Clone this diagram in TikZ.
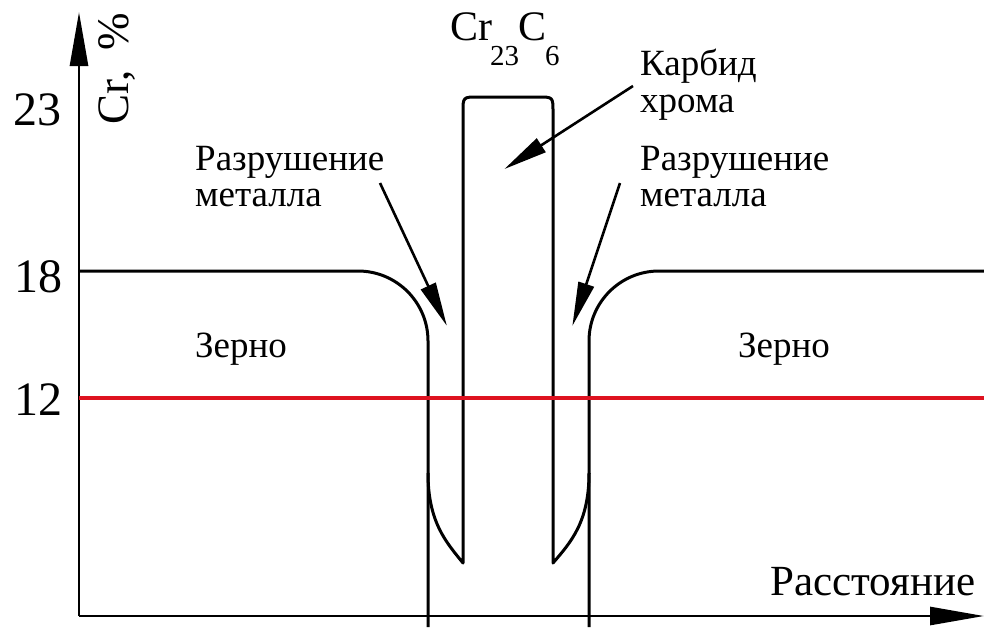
\documentclass[tikz,border=0pt]{standalone}
\usepackage{fontspec}
\setmainfont{Liberation Serif}
\usetikzlibrary{arrows.meta}
\definecolor{redline}{RGB}{222,18,32}
\tikzset{
  profile/.style={line width=3pt, black, line cap=butt, line join=round},
  axisline/.style={line width=2.8pt, black, -{Triangle[length=54pt,width=18pt]}},
  pointer/.style={line width=2.6pt, black, -{Triangle[length=44pt,width=16pt]}, shorten >=-2pt},
  lbl/.style={inner sep=0pt, anchor=base west, font=\fontsize{37}{37}\selectfont},
  ticklbl/.style={inner sep=0pt, anchor=base east, font=\fontsize{48}{48}\selectfont},
}
\begin{document}
\begin{tikzpicture}[x=1pt, y=-1pt]
\useasboundingbox (0,0) rectangle (984,627);
% axes
\coordinate (O) at (79,616);
\coordinate (ytip) at (79,12);
\coordinate (xtip) at (984,616);
\draw[axisline] (O) -- (ytip);
\draw[axisline] (O) -- (xtip);
% profile
\draw[profile, rounded corners=70pt] (79,271) -- (428,271) -- (428,627);
\draw[profile, rounded corners=70pt] (984,271) -- (589,271) -- (589,627);
\draw[profile] (428,473) .. controls (428,522) and (446,542) .. (463,563)
  -- (463,112) .. controls (463,97) .. (478,97) -- (538,97)
  .. controls (553,97) .. (553,112) -- (553,563)
  .. controls (571,542) and (589,522) .. (589,473);
% red threshold line
\draw[redline, line width=4.5pt] (79,398) -- (984,398);
% tick labels
\node[ticklbl] (t23) at (62,125) {23};
\node[ticklbl] (t18) at (63,292) {18};
\node[ticklbl] (t12) at (63,415) {12};
% axis labels
\node[inner sep=0pt, anchor=base west, rotate=90, font=\fontsize{45}{45}\selectfont] (ylab) at (128,125) {Cr,\hspace{0.45em}\%};
\node[lbl, font=\fontsize{43}{43}\selectfont] (xlab) at (770,595) {Расстояние};
% formula
\node[inner sep=0pt, anchor=base west, font=\fontsize{42}{42}\selectfont] (form) at (450,40)
  {Cr\kern-2pt\raisebox{-25pt}{\fontsize{29}{29}\selectfont 23}\kern-1pt C\kern-1pt\raisebox{-25pt}{\fontsize{29}{29}\selectfont 6}};
% labels
\node[lbl] (k1) at (640,75) {Карбид};
\node[lbl] (k2) at (640,112) {хрома};
\node[lbl] (rl1) at (195,170) {Разрушение};
\node[lbl] (rl2) at (195,206) {металла};
\node[lbl] (rr1) at (640,170) {Разрушение};
\node[lbl] (rr2) at (640,206) {металла};
\node[lbl] (z1) at (195,357) {Зерно};
\node[lbl] (z2) at (738,357) {Зерно};
% pointers
\coordinate (ks) at (633,86);
\coordinate (kt) at (506,168);
\coordinate (ls) at (380,183);
\coordinate (lt) at (446,324);
\coordinate (rs) at (620,183);
\coordinate (rt) at (573,324);
\draw[pointer] (ks) -- (kt);
\draw[pointer] (ls) -- (lt);
\draw[pointer] (rs) -- (rt);
\end{tikzpicture}
\end{document}
